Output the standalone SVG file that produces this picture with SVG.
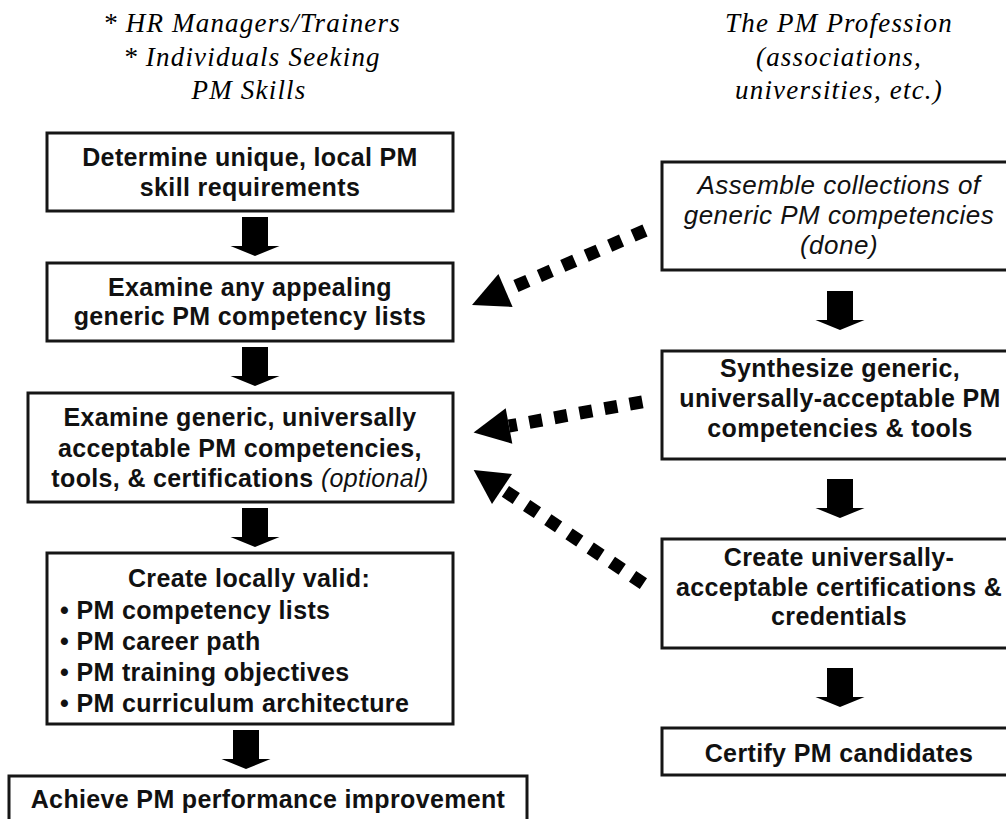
<svg xmlns="http://www.w3.org/2000/svg" width="1006" height="819" viewBox="0 0 1006 819">
<defs>
<style>
.box{fill:#fff;stroke:#161616;stroke-width:3}
.b{font-family:"Liberation Sans",Arial,sans-serif;font-weight:bold;font-size:25px;letter-spacing:0.35px;fill:#111}
.bl{text-anchor:start}
.m{text-anchor:middle}
.it{font-family:"Liberation Sans",Arial,sans-serif;font-style:italic;font-size:26px;letter-spacing:0.5px;fill:#111}
.oi{font-style:italic;font-weight:normal}
.h{font-family:"Liberation Serif","Times New Roman",serif;font-style:italic;font-size:27px;letter-spacing:1.2px;fill:#000;text-anchor:middle}
.dot{fill:none;stroke:#000;stroke-width:13;stroke-dasharray:13 12.5}
.head{fill:#000}
</style>
<path id="down" d="M-13,0 H13 V29 H24.5 L0,39 L-24.5,29 H-13 Z" fill="#000"/>
</defs>
<rect width="1006" height="819" fill="#fff"/>

<g id="header-left">
<text class="h" x="252" y="32">* HR Managers/Trainers</text>
<text class="h" x="252" y="66">* Individuals Seeking</text>
<text class="h" x="249" y="99">PM Skills</text>
</g>
<g id="header-right">
<text class="h" x="839" y="32">The PM Profession</text>
<text class="h" x="839" y="66">(associations,</text>
<text class="h" x="839" y="99">universities, etc.)</text>
</g>

<g id="node-determine">
<rect class="box" x="47" y="133" width="406" height="78"/>
<text class="b m" x="250" y="166">Determine unique, local PM</text>
<text class="b m" x="250" y="196">skill requirements</text>
</g>
<g id="node-examine-any">
<rect class="box" x="47" y="263" width="406" height="78"/>
<text class="b m" x="250" y="296">Examine any appealing</text>
<text class="b m" x="250" y="325">generic PM competency lists</text>
</g>
<g id="node-examine-generic">
<rect class="box" x="28" y="393" width="425" height="109"/>
<text class="b m" x="240" y="426">Examine generic, universally</text>
<text class="b m" x="240" y="457">acceptable PM competencies,</text>
<text class="b m" x="240" y="487">tools, &amp; certifications <tspan class="oi">(optional)</tspan></text>
</g>
<g id="node-create-local">
<rect class="box" x="47" y="553" width="406" height="171"/>
<text class="b m" x="249" y="587">Create locally valid:</text>
<text class="b bl" x="60" y="619">• PM competency lists</text>
<text class="b bl" x="60" y="650">• PM career path</text>
<text class="b bl" x="60" y="681">• PM training objectives</text>
<text class="b bl" x="60" y="712">• PM curriculum architecture</text>
</g>
<g id="node-achieve">
<rect class="box" x="9" y="776" width="518" height="60"/>
<text class="b m" x="268" y="808">Achieve PM performance improvement</text>
</g>

<g id="node-assemble">
<rect class="box" x="662" y="162" width="360" height="108"/>
<text class="it m" x="839" y="194">Assemble collections of</text>
<text class="it m" x="839" y="224">generic PM competencies</text>
<text class="it m" x="839" y="254">(done)</text>
</g>
<g id="node-synthesize">
<rect class="box" x="662" y="351" width="360" height="108"/>
<text class="b m" x="840" y="377">Synthesize generic,</text>
<text class="b m" x="840" y="407">universally-acceptable PM</text>
<text class="b m" x="840" y="437">competencies &amp; tools</text>
</g>
<g id="node-certifications">
<rect class="box" x="662" y="539" width="360" height="109"/>
<text class="b m" x="839" y="566">Create universally-</text>
<text class="b m" x="839" y="596">acceptable certifications &amp;</text>
<text class="b m" x="839" y="625">credentials</text>
</g>
<g id="node-certify">
<rect class="box" x="662" y="728" width="360" height="47"/>
<text class="b m" x="839" y="762">Certify PM candidates</text>
</g>

<g id="connectors">
<use href="#down" x="255" y="217"/>
<use href="#down" x="255" y="347"/>
<use href="#down" x="255" y="508"/>
<use href="#down" x="246" y="730"/>
<use href="#down" x="840" y="291"/>
<use href="#down" x="840" y="479"/>
<use href="#down" x="840" y="668"/>

<path class="dot" d="M645,230.5 L505.5,290.5"/>
<polygon class="head" points="472,305 498.4,274 512.6,307"/>

<path class="dot" d="M642.4,401.8 L509,426"/>
<polygon class="head" points="473.6,432.5 505.7,408.3 512.3,443.7"/>

<path class="dot" d="M643.4,583.6 L502,489"/>
<polygon class="head" points="473.7,470.1 512,474 492,504"/>
</g>
</svg>
